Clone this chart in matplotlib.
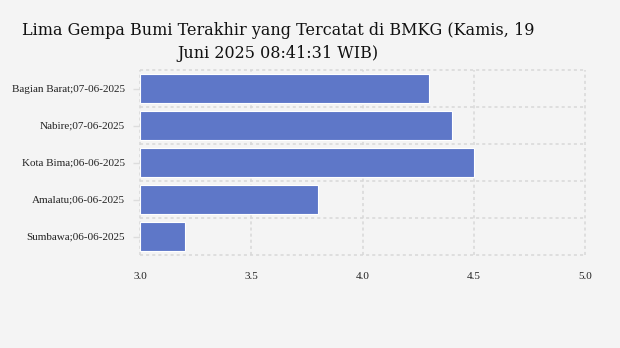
import matplotlib
matplotlib.use("Agg")
import matplotlib.pyplot as plt
import numpy as np

categories = ["Bagian Barat;07-06-2025", "Nabire;07-06-2025", "Kota Bima;06-06-2025",
              "Amalatu;06-06-2025", "Sumbawa;06-06-2025"]
magnitudes = [4.3, 4.4, 4.5, 3.8, 3.2]
x_ticks = [3.0, 3.5, 4.0, 4.5, 5.0]
x_tick_labels = ["3.0", "3.5", "4.0", "4.5", "5.0"]
title = "Lima Gempa Bumi Terakhir yang Tercatat di BMKG (Kamis, 19\nJuni 2025 08:41:31 WIB)"

bg = "#f4f4f4"
fig = plt.figure(figsize=(6.2, 3.48), dpi=100, facecolor=bg)
ax = fig.add_axes([140/620, 1-255/348, 445/620, 185/348], facecolor=bg)

y = np.arange(len(categories))
ax.barh(y, [m - 3.0 for m in magnitudes], left=3.0, height=0.8,
        color="#5e77c8", edgecolor="white", linewidth=0.8, zorder=2)

ax.set_xlim(3.0, 5.0)
ax.set_ylim(len(categories) - 0.5, -0.5)
ax.set_xticks(x_ticks)
ax.set_xticklabels(x_tick_labels, family="Liberation Serif", fontsize=8, color="#222222")
ax.set_yticks(y)
ax.set_yticklabels(categories, family="Liberation Serif", fontsize=8, color="#222222")
ax.set_yticks(np.arange(-0.5, len(categories), 1.0), minor=True)
ax.tick_params(axis="x", length=0, pad=12)
ax.tick_params(axis="y", which="major", length=5, color="#dddddd", width=1, pad=6)
ax.tick_params(axis="y", which="minor", length=0)

for s in ax.spines.values():
    s.set_visible(False)

for xv in x_ticks:
    ax.axvline(xv, color="#d8d8d8", linestyle=(0, (2, 2)), linewidth=1.1, zorder=1, clip_on=False)
for yv in np.arange(-0.5, len(categories), 1.0):
    ax.axhline(yv, color="#d8d8d8", linestyle=(0, (2, 2)), linewidth=1.1, zorder=1, clip_on=False)

fig.text(0.448, 1-22/348, title, ha="center", va="top", family="DejaVu Serif",
         fontsize=11.5, color="#111111", linespacing=1.45)

fig.savefig("out.png", dpi=100, facecolor=bg)
